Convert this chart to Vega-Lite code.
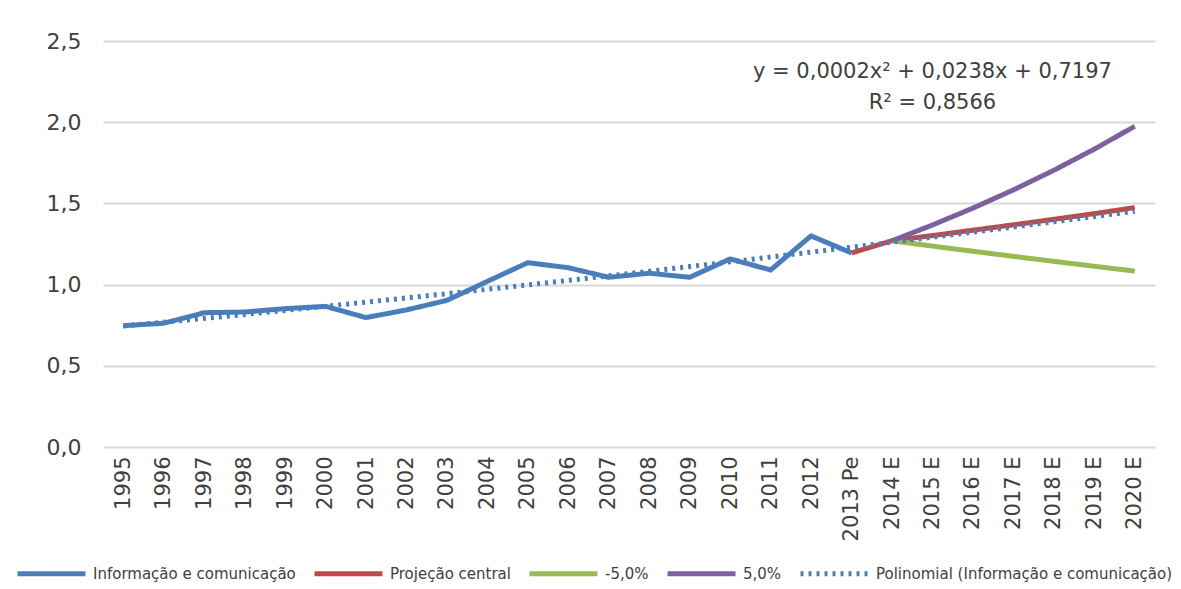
{
  "$schema": "https://vega.github.io/schema/vega-lite/v6.json",
  "width": 1052,
  "height": 406,
  "autosize": {"type": "none"},
  "padding": {"left": 103, "top": 41, "right": 26, "bottom": 142},
  "background": "white",
  "config": {
    "font": "DejaVu Sans",
    "view": {"stroke": null}
  },
  "data": {
    "values": [
      {"ano": "1995", "serie": "Informação e comunicação", "valor": 0.747},
      {"ano": "1996", "serie": "Informação e comunicação", "valor": 0.762},
      {"ano": "1997", "serie": "Informação e comunicação", "valor": 0.827},
      {"ano": "1998", "serie": "Informação e comunicação", "valor": 0.831},
      {"ano": "1999", "serie": "Informação e comunicação", "valor": 0.852},
      {"ano": "2000", "serie": "Informação e comunicação", "valor": 0.866},
      {"ano": "2001", "serie": "Informação e comunicação", "valor": 0.797},
      {"ano": "2002", "serie": "Informação e comunicação", "valor": 0.844},
      {"ano": "2003", "serie": "Informação e comunicação", "valor": 0.903},
      {"ano": "2004", "serie": "Informação e comunicação", "valor": 1.02},
      {"ano": "2005", "serie": "Informação e comunicação", "valor": 1.135},
      {"ano": "2006", "serie": "Informação e comunicação", "valor": 1.104},
      {"ano": "2007", "serie": "Informação e comunicação", "valor": 1.045},
      {"ano": "2008", "serie": "Informação e comunicação", "valor": 1.07},
      {"ano": "2009", "serie": "Informação e comunicação", "valor": 1.045},
      {"ano": "2010", "serie": "Informação e comunicação", "valor": 1.158},
      {"ano": "2011", "serie": "Informação e comunicação", "valor": 1.09},
      {"ano": "2012", "serie": "Informação e comunicação", "valor": 1.30},
      {"ano": "2013 Pe", "serie": "Informação e comunicação", "valor": 1.195},
      {"ano": "2013 Pe", "serie": "Projeção central", "valor": 1.195},
      {"ano": "2014 E", "serie": "Projeção central", "valor": 1.27},
      {"ano": "2015 E", "serie": "Projeção central", "valor": 1.302},
      {"ano": "2016 E", "serie": "Projeção central", "valor": 1.335},
      {"ano": "2017 E", "serie": "Projeção central", "valor": 1.368},
      {"ano": "2018 E", "serie": "Projeção central", "valor": 1.402},
      {"ano": "2019 E", "serie": "Projeção central", "valor": 1.437},
      {"ano": "2020 E", "serie": "Projeção central", "valor": 1.474},
      {"ano": "2014 E", "serie": "-5,0%", "valor": 1.27},
      {"ano": "2015 E", "serie": "-5,0%", "valor": 1.237},
      {"ano": "2016 E", "serie": "-5,0%", "valor": 1.205},
      {"ano": "2017 E", "serie": "-5,0%", "valor": 1.174},
      {"ano": "2018 E", "serie": "-5,0%", "valor": 1.143},
      {"ano": "2019 E", "serie": "-5,0%", "valor": 1.113},
      {"ano": "2020 E", "serie": "-5,0%", "valor": 1.083},
      {"ano": "2014 E", "serie": "5,0%", "valor": 1.27},
      {"ano": "2015 E", "serie": "5,0%", "valor": 1.367},
      {"ano": "2016 E", "serie": "5,0%", "valor": 1.471},
      {"ano": "2017 E", "serie": "5,0%", "valor": 1.583},
      {"ano": "2018 E", "serie": "5,0%", "valor": 1.704},
      {"ano": "2019 E", "serie": "5,0%", "valor": 1.834},
      {"ano": "2020 E", "serie": "5,0%", "valor": 1.975},
      {"ano": "1995", "serie": "Polinomial (Informação e comunicação)", "valor": 0.745},
      {"ano": "1996", "serie": "Polinomial (Informação e comunicação)", "valor": 0.768},
      {"ano": "1997", "serie": "Polinomial (Informação e comunicação)", "valor": 0.792},
      {"ano": "1998", "serie": "Polinomial (Informação e comunicação)", "valor": 0.816},
      {"ano": "1999", "serie": "Polinomial (Informação e comunicação)", "valor": 0.841},
      {"ano": "2000", "serie": "Polinomial (Informação e comunicação)", "valor": 0.866},
      {"ano": "2001", "serie": "Polinomial (Informação e comunicação)", "valor": 0.892},
      {"ano": "2002", "serie": "Polinomial (Informação e comunicação)", "valor": 0.918},
      {"ano": "2003", "serie": "Polinomial (Informação e comunicação)", "valor": 0.944},
      {"ano": "2004", "serie": "Polinomial (Informação e comunicação)", "valor": 0.971},
      {"ano": "2005", "serie": "Polinomial (Informação e comunicação)", "valor": 0.998},
      {"ano": "2006", "serie": "Polinomial (Informação e comunicação)", "valor": 1.026},
      {"ano": "2007", "serie": "Polinomial (Informação e comunicação)", "valor": 1.054},
      {"ano": "2008", "serie": "Polinomial (Informação e comunicação)", "valor": 1.082},
      {"ano": "2009", "serie": "Polinomial (Informação e comunicação)", "valor": 1.111},
      {"ano": "2010", "serie": "Polinomial (Informação e comunicação)", "valor": 1.140},
      {"ano": "2011", "serie": "Polinomial (Informação e comunicação)", "valor": 1.170},
      {"ano": "2012", "serie": "Polinomial (Informação e comunicação)", "valor": 1.200},
      {"ano": "2013 Pe", "serie": "Polinomial (Informação e comunicação)", "valor": 1.230},
      {"ano": "2014 E", "serie": "Polinomial (Informação e comunicação)", "valor": 1.261},
      {"ano": "2015 E", "serie": "Polinomial (Informação e comunicação)", "valor": 1.292},
      {"ano": "2016 E", "serie": "Polinomial (Informação e comunicação)", "valor": 1.323},
      {"ano": "2017 E", "serie": "Polinomial (Informação e comunicação)", "valor": 1.355},
      {"ano": "2018 E", "serie": "Polinomial (Informação e comunicação)", "valor": 1.387},
      {"ano": "2019 E", "serie": "Polinomial (Informação e comunicação)", "valor": 1.419},
      {"ano": "2020 E", "serie": "Polinomial (Informação e comunicação)", "valor": 1.452}
    ]
  },
  "layer": [
    {
      "mark": {"type": "line", "strokeJoin": "round", "strokeCap": "butt"},
      "encoding": {
        "x": {
          "field": "ano",
          "type": "nominal",
          "scale": {
            "type": "point",
            "padding": 0.5,
            "domain": ["1995","1996","1997","1998","1999","2000","2001","2002","2003","2004","2005","2006","2007","2008","2009","2010","2011","2012","2013 Pe","2014 E","2015 E","2016 E","2017 E","2018 E","2019 E","2020 E"]
          },
          "axis": {
            "title": null,
            "labelAngle": -90,
            "labelAlign": "right",
            "labelBaseline": "middle",
            "labelFontSize": 21,
            "labelColor": "#404040",
            "labelPadding": 9,
            "ticks": false,
            "domain": false,
            "grid": false
          }
        },
        "y": {
          "field": "valor",
          "type": "quantitative",
          "scale": {"domain": [0, 2.5], "nice": false, "zero": true},
          "axis": {
            "title": null,
            "values": [0, 0.5, 1, 1.5, 2, 2.5],
            "labelExpr": "replace(format(datum.value, '.1f'), '.', ',')",
            "labelFontSize": 22,
            "labelColor": "#404040",
            "labelPadding": 22,
            "ticks": false,
            "domain": false,
            "grid": true,
            "gridColor": "#d9d9d9",
            "gridWidth": 2
          }
        },
        "color": {
          "field": "serie",
          "type": "nominal",
          "scale": {
            "domain": ["Informação e comunicação", "Projeção central", "-5,0%", "5,0%", "Polinomial (Informação e comunicação)"],
            "range": ["#4A7EBB", "#BE4B48", "#98B954", "#7D60A0", "#4A7EBB"]
          },
          "legend": {
            "title": null,
            "orient": "none",
            "direction": "horizontal",
            "legendX": -88,
            "legendY": 496,
            "symbolType": "stroke",
            "symbolSize": 4624,
            "labelFontSize": 15,
            "labelColor": "#404040",
            "labelOffset": 5,
            "columnPadding": 8,
            "labelLimit": 400
          }
        },
        "strokeDash": {
          "field": "serie",
          "type": "nominal",
          "scale": {
            "domain": ["Informação e comunicação", "Projeção central", "-5,0%", "5,0%", "Polinomial (Informação e comunicação)"],
            "range": [[1, 0], [1, 0], [1, 0], [1, 0], [3, 5]]
          }
        },
        "strokeWidth": {
          "field": "serie",
          "type": "nominal",
          "scale": {
            "domain": ["Informação e comunicação", "Projeção central", "-5,0%", "5,0%", "Polinomial (Informação e comunicação)"],
            "range": [5, 5, 5, 5, 3]
          }
        }
      }
    },
    {
      "data": {"values": [{}]},
      "mark": {"type": "text", "fontSize": 21, "color": "#404040", "align": "center", "baseline": "middle", "lineHeight": 31},
      "encoding": {
        "x": {"datum": "2015 E"},
        "y": {"datum": 2.31},
        "text": {"value": ["y = 0,0002x² + 0,0238x + 0,7197", "R² = 0,8566"]}
      }
    }
  ]
}
